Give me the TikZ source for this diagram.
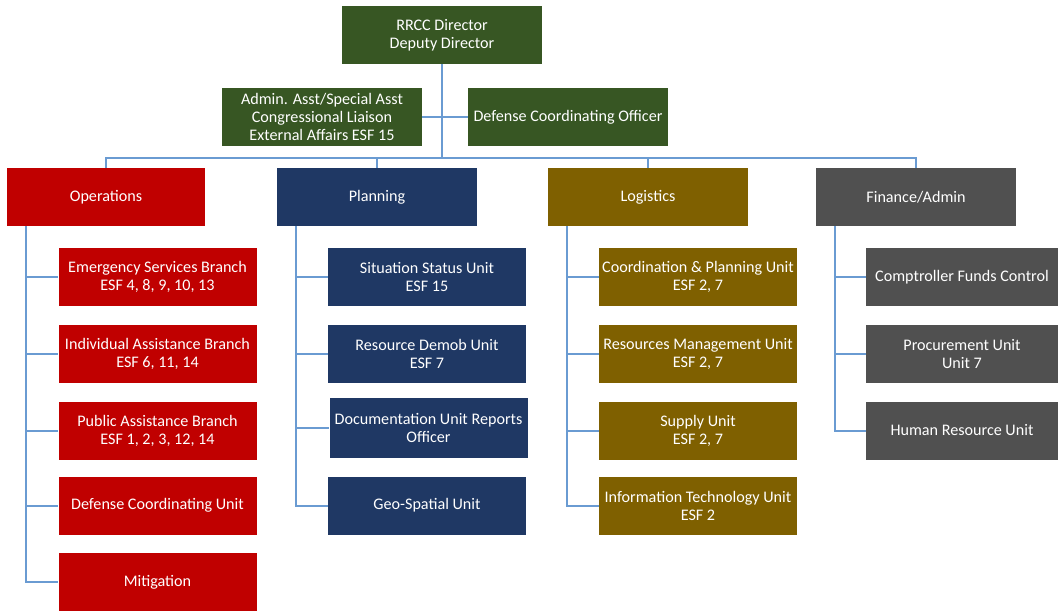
\documentclass[tikz,border=0pt]{standalone}
\usepackage{fontspec}
\setmainfont{Carlito}
\usetikzlibrary{calc}
\definecolor{cgreen}{HTML}{375623}
\definecolor{cred}{HTML}{C00000}
\definecolor{cnavy}{HTML}{1F3864}
\definecolor{cgold}{HTML}{7F6000}
\definecolor{cgray}{HTML}{505050}
\definecolor{cline}{HTML}{6A9BD2}
\tikzset{
  box/.style={rectangle, fill=#1, text=white, inner sep=0pt, align=center,
    minimum width=148.5pt, minimum height=43.5pt,
    font=\fontsize{12.1}{13.5}\selectfont},
  conn/.style={draw=cline, line width=1.5pt},
}
\begin{document}
\begin{tikzpicture}[x=0.75pt,y=-0.75pt]
\useasboundingbox (0,0) rectangle (1058,611);
\fill[white] (0,0) rectangle (1058,611);
% top
\node[box=cgreen, minimum width=150pt] (dir) at (442,35) {RRCC Director\\Deputy Director};
\node[box=cgreen, minimum width=150pt] (adm) at (322,117) {Admin. Asst/Special Asst\\Congressional Liaison\\External Affairs ESF 15};
\node[box=cgreen, minimum width=150pt] (dco) at (568,117) {Defense Coordinating Officer};
% level 2
\node[box=cred] (ops) at (106,197) {Operations};
\node[box=cnavy, minimum width=150pt] (pln) at (377,197) {Planning};
\node[box=cgold, minimum width=150pt] (log) at (648,197) {Logistics};
\node[box=cgray, minimum width=150pt] (fin) at (916,197) {Finance/Admin};
% operations children
\node[box=cred] (o1) at (157.5,277) {Emergency Services Branch\\ESF 4, 8, 9, 10, 13};
\node[box=cred] (o2) at (157.5,354) {Individual Assistance Branch\\ESF 6, 11, 14};
\node[box=cred] (o3) at (157.5,430.5) {Public Assistance Branch\\ESF 1, 2, 3, 12, 14};
\node[box=cred] (o4) at (157.5,505.5) {Defense Coordinating Unit};
\node[box=cred] (o5) at (157.5,582) {Mitigation};
% planning children
\node[box=cnavy] (p1) at (427,277) {Situation Status Unit\\ESF 15};
\node[box=cnavy] (p2) at (427,354) {Resource Demob Unit\\ESF 7};
\node[box=cnavy, minimum height=45pt] (p3) at (428.5,428) {Documentation Unit Reports\\Officer};
\node[box=cnavy] (p4) at (427,505.5) {Geo-Spatial Unit};
% logistics children
\node[box=cgold] (l1) at (698,277) {Coordination \& Planning Unit\\ESF 2, 7};
\node[box=cgold] (l2) at (698,354) {Resources Management Unit\\ESF 2, 7};
\node[box=cgold] (l3) at (698,430.5) {Supply Unit\\ESF 2, 7};
\node[box=cgold] (l4) at (698,505.5) {Information Technology Unit\\ESF 2};
% finance children
\node[box=cgray, minimum width=144pt] (f1) at (962,277) {Comptroller Funds Control};
\node[box=cgray, minimum width=144pt] (f2) at (962,354) {Procurement Unit\\Unit 7};
\node[box=cgray, minimum width=144pt] (f3) at (962,430.5) {Human Resource Unit};
% connectors
\draw[conn] (dir.south) -- ($(dir.south |- ops.north)+(0,-10)$);
\draw[conn] (adm) -- (dco);
\draw[conn] (ops.north) -- ++(0,-10) -| (fin.north);
\draw[conn] (pln.north) -- ++(0,-10);
\draw[conn] (log.north) -- ++(0,-10);
\foreach \c in {o1,o2,o3,o4,o5} \draw[conn] ($(ops.south west)+(19,0)$) |- (\c.west);
\foreach \c in {p1,p2,p3,p4} \draw[conn] ($(pln.south west)+(19,0)$) |- (\c.west);
\foreach \c in {l1,l2,l3,l4} \draw[conn] ($(log.south west)+(19,0)$) |- (\c.west);
\foreach \c in {f1,f2,f3} \draw[conn] ($(fin.south west)+(19,0)$) |- (\c.west);
\end{tikzpicture}
\end{document}
